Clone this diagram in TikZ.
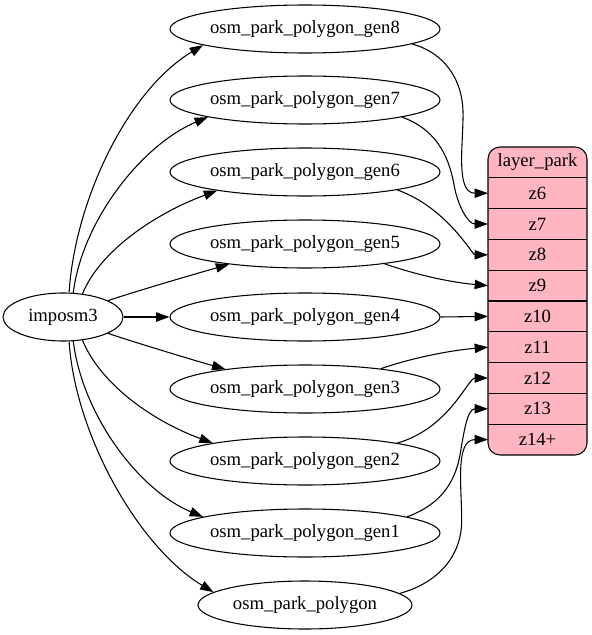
\documentclass[tikz,border=0pt]{standalone}
\usepackage{fontspec}
\setmainfont{Liberation Serif}
\usetikzlibrary{arrows.meta,shapes.geometric,positioning,backgrounds}
\definecolor{parkpink}{HTML}{FFB6C1}
\begin{document}
\begin{tikzpicture}[x=0.75pt,y=-0.75pt,
        every node/.style={font=\fontsize{14pt}{16pt}\selectfont},
        oval/.style={draw,ellipse,inner sep=0pt,line width=0.8pt,minimum width=202.5pt,minimum height=36pt},
        cell/.style={inner sep=0pt,outer sep=0pt,minimum width=74.25pt,minimum height=23.1pt},
        edge/.style={-{Triangle[length=10pt,width=7pt]},line width=0.8pt}]
        \useasboundingbox (0,0) rectangle (592,635);
        % sources
        \node[oval,minimum width=90pt] (imposm3) at (63,317) {imposm3};
        \node[oval] (gen8) at (305,29) {osm\_park\_polygon\_gen8};
        \node[oval] (gen7) at (305,100) {osm\_park\_polygon\_gen7};
        \node[oval] (gen6) at (305,172) {osm\_park\_polygon\_gen6};
        \node[oval] (gen5) at (305,244) {osm\_park\_polygon\_gen5};
        \node[oval] (gen4) at (305,317) {osm\_park\_polygon\_gen4};
        \node[oval] (gen3) at (305,389) {osm\_park\_polygon\_gen3};
        \node[oval] (gen2) at (305,461) {osm\_park\_polygon\_gen2};
        \node[oval] (gen1) at (305,533) {osm\_park\_polygon\_gen1};
        \node[oval,minimum width=160.5pt] (polygon) at (305,605) {osm\_park\_polygon};
        % layer record
        \node[cell] (head) at (537.5,162.4) {layer\_park};
        \node[cell,below=0pt of head] (z6) {z6};
        \node[cell,below=0pt of z6] (z7) {z7};
        \node[cell,below=0pt of z7] (z8) {z8};
        \node[cell,below=0pt of z8] (z9) {z9};
        \node[cell,below=0pt of z9] (z10) {z10};
        \node[cell,below=0pt of z10] (z11) {z11};
        \node[cell,below=0pt of z11] (z12) {z12};
        \node[cell,below=0pt of z12] (z13) {z13};
        \node[cell,below=0pt of z13] (z14) {z14+};
        \begin{scope}[on background layer]
        \filldraw[fill=parkpink,line width=0.8pt,rounded corners=9pt] (head.north west) rectangle (z14.south east);
        \end{scope}
        \foreach \r in {z6,z7,z8,z9,z10,z11,z12,z13,z14}
          \draw[line width=0.8pt] (\r.north west) -- (\r.north east);
        % imposm3 to tables
        \draw[edge] (imposm3.76) .. controls +(6,-93) and +(-75,45) .. (gen8.189);
        \draw[edge] (imposm3.67) .. controls +(9,-73) and +(-65,27) .. (gen7.190);
        \draw[edge] (imposm3.50) .. controls +(18,-44) and +(-60,22) .. (gen6.192);
        \draw[edge] (imposm3.20) .. controls +(30,-10) and +(-32,9) .. (gen5.195);
        \draw[edge] (imposm3.east) -- (gen4.west);
        \draw[edge] (imposm3.-20) .. controls +(30,10) and +(-32,-9) .. (gen3.166);
        \draw[edge] (imposm3.-50) .. controls +(18,44) and +(-60,-22) .. (gen2.169);
        \draw[edge] (imposm3.-67) .. controls +(9,73) and +(-65,-27) .. (gen1.171);
        \draw[edge] (imposm3.-76) .. controls +(6,93) and +(-75,-45) .. (polygon.172);
        % tables to zoom levels
        \draw[edge] (gen8.-8) to[out=-15,in=90] ++(51,70) to[out=-90,in=180] (z6.west);
        \draw[edge] (gen7.-10) to[out=-20,in=100] ++(52,68) to[out=-80,in=180] (z7.west);
        \draw[edge] (gen6.-11) .. controls +(50,18) and +(-16,0) .. (z8.west);
        \draw[edge] (gen5.-14) .. controls +(35,12) and +(-35,-3) .. (z9.west);
        \draw[edge] (gen4.east) -- (z10.west);
        \draw[edge] (gen3.15) .. controls +(35,-12) and +(-35,3) .. (z11.west);
        \draw[edge] (gen2.11) .. controls +(52,-15) and +(-20,0) .. (z12.west);
        \draw[edge] (gen1.9) to[out=20,in=-100] ++(53,-62) to[out=80,in=180] (z13.west);
        \draw[edge] (polygon.7) to[out=15,in=-90] ++(62,-73) to[out=90,in=180] (z14.west);
\end{tikzpicture}
\end{document}
